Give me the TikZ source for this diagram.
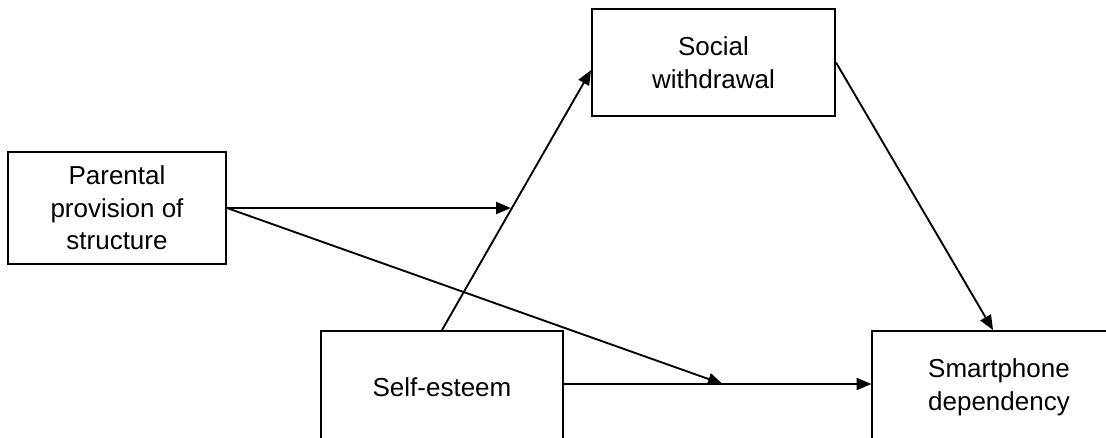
\documentclass[tikz,border=0pt]{standalone}
\usepackage{fontspec}
\setmainfont{Liberation Sans}
\usetikzlibrary{arrows.meta,calc}
\tikzset{
	box/.style={draw,line width=1.5pt,align=center,inner sep=0pt,font=\fontsize{19.5}{24.5}\selectfont},
	link/.style={line width=1.4pt,-{Triangle[length=11pt,width=9pt]}}
}
\begin{document}
\begin{tikzpicture}[x=0.75pt,y=-0.75pt]
		\clip (0,0) rectangle (1106,437);
		\node[box,minimum width=163.5pt,minimum height=84pt] (par) at (117,208) {Parental\\provision of\\structure};
		\node[box,minimum width=182.25pt,minimum height=80.25pt] (soc) at (713.5,62.5) {Social\\withdrawal};
		\node[box,minimum width=181.5pt,minimum height=84pt] (self) at (442,387) {Self-esteem};
		\node[box,minimum width=190pt,minimum height=84pt] (smart) at (999,387) {Smartphone\\dependency};
		\coordinate (socin) at ($(soc.north west)!0.57!(soc.south west)$);
		\coordinate (selfout) at ($(self.west)!0.5!(self.east)+(0,-3)$);
		\path (self.north) -- (socin) coordinate[pos=0.471] (mod1);
		\coordinate (smartin) at (smart.west |- selfout);
		\coordinate (mod2) at ($(self.east |- selfout)!0.516!(smartin)$);
		\coordinate (smarttop) at ($(smart.north)+(-6,0)$);
		\draw[link] (self.north) -- (socin);
		\draw[link] (self.east |- selfout) -- (smartin);
		\draw[link] (soc.east) -- (smarttop);
		\draw[link,shorten >=1pt] (par.east) -- (par.east -| mod1);
		\draw[link] (par.east) -- (mod2);
	\end{tikzpicture}
\end{document}
